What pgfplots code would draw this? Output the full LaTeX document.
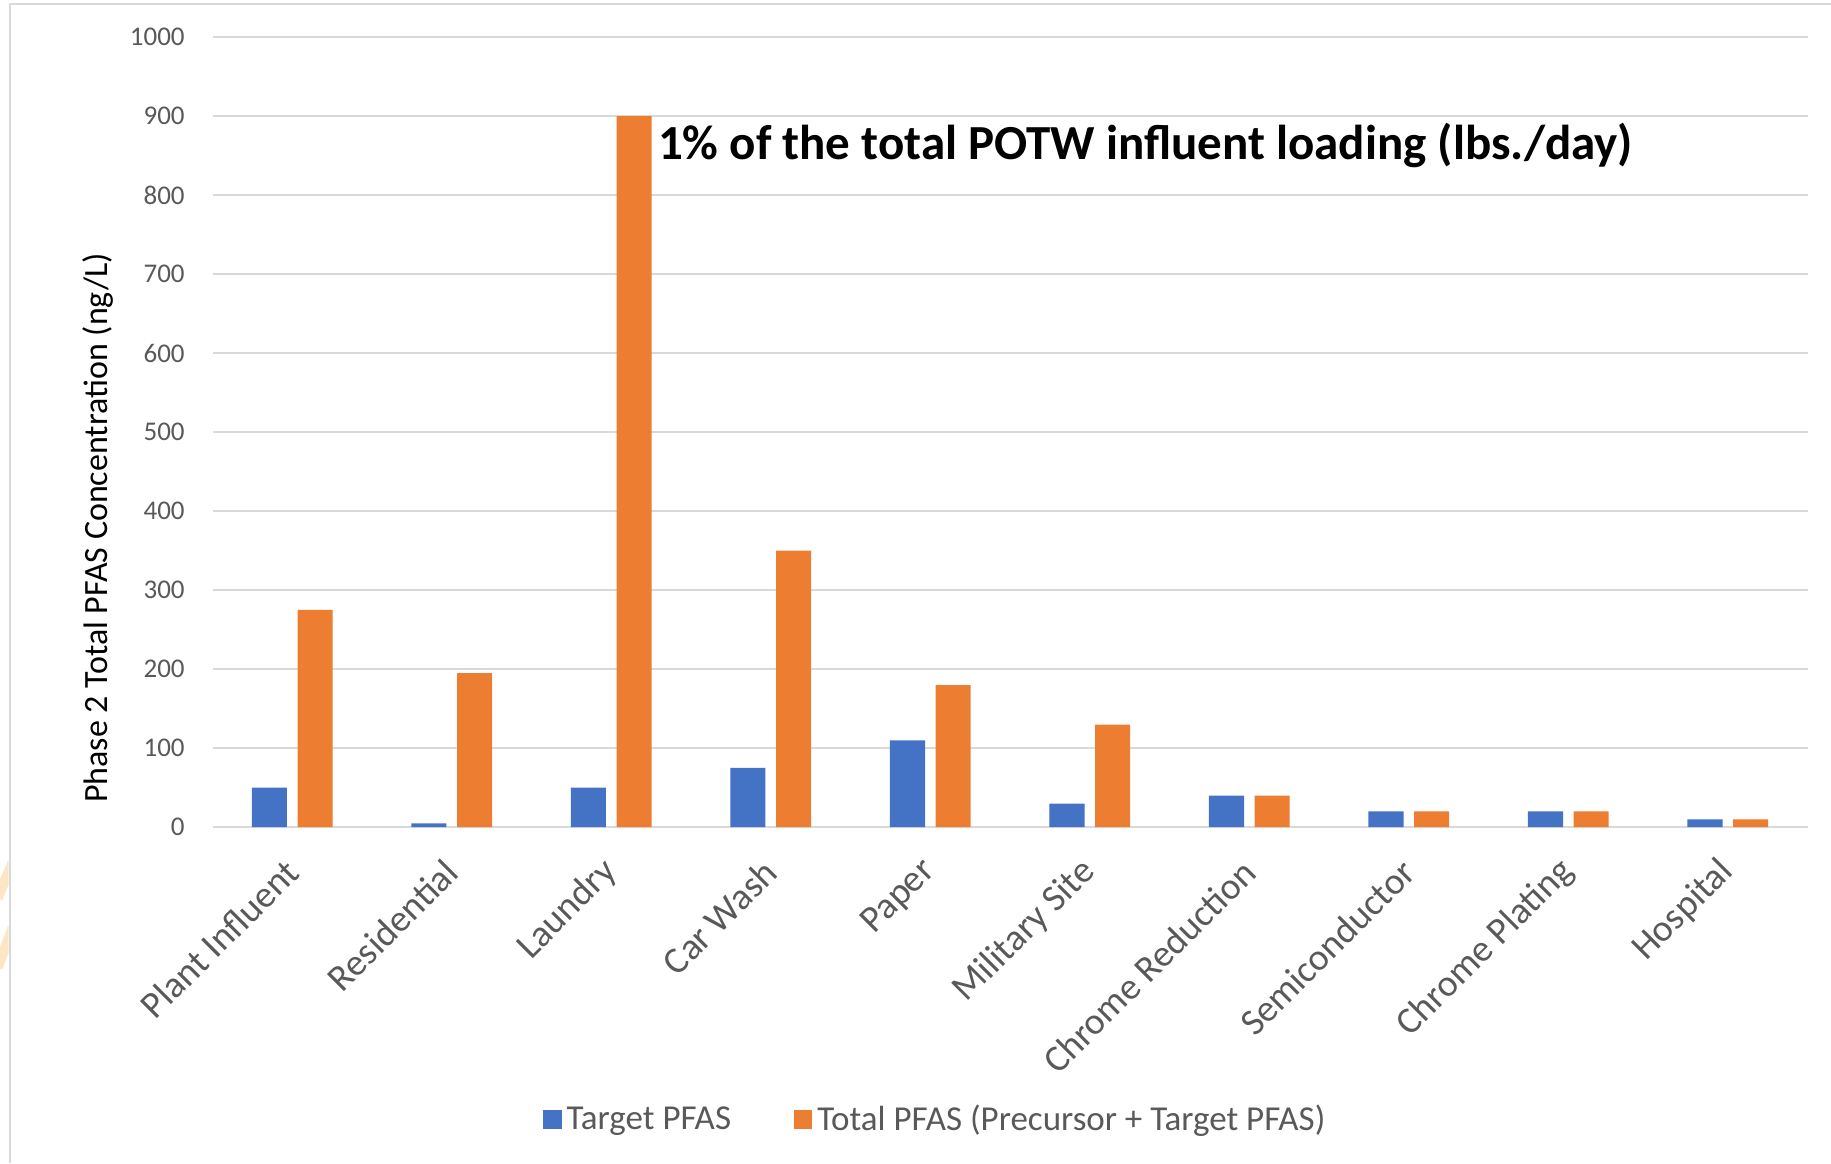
\documentclass[border=0pt]{standalone}
\usepackage{fontspec}
\setmainfont{Carlito}
\usepackage{pgfplots}
\pgfplotsset{compat=1.18}
\definecolor{barblue}{HTML}{4472C4}
\definecolor{barorange}{HTML}{ED7D31}
\definecolor{txtgray}{HTML}{595959}
\definecolor{gridgray}{HTML}{D9D9D9}
\definecolor{markpeach}{HTML}{FDE6C4}

\begin{document}
\begin{tikzpicture}
% page area and frame
\path[use as bounding box, fill=white] (0,0) rectangle (732.4pt,465.2pt);
\begin{scope}
  \clip (0,0) rectangle (3.4pt,465.2pt);
  \draw[markpeach, line width=4pt] (-1pt,106pt) -- (5pt,120pt);
  \draw[markpeach, line width=4pt] (-1pt,78pt) -- (5pt,94pt);
\end{scope}
\draw[gridgray, line width=0.8pt] (3.8pt,0) -- (3.8pt,463.6pt) -- (732.4pt,463.6pt);

\begin{axis}[
  at={(85pt,134.3pt)}, anchor=south west,
  scale only axis, width=638pt, height=316pt,
  xmin=-0.5, xmax=9.5, ymin=0, ymax=1000,
  xtick={0,...,9},
  xticklabels={Plant Influent, Residential, Laundry, Car Wash, Paper,
    Military Site, Chrome Reduction, Semiconductor, Chrome Plating, Hospital},
  ytick={0,100,...,1000},
  axis line style={draw=none},
  tick style={draw=none},
  major tick length=0pt,
  ymajorgrids,
  grid style={gridgray, line width=0.8pt},
  /pgf/number format/assume math mode=true,
  /pgf/number format/1000 sep={},
  yticklabel style={font=\fontsize{10.8}{13}\selectfont, text=txtgray, xshift=-7.6pt},
  xticklabel style={font=\fontsize{15}{18}\selectfont, text=txtgray,
    xshift=2.4pt, yshift=-13.1pt, rotate=45, anchor=east},
  legend style={at={(0.454,-0.370)}, anchor=center, draw=none, fill=none,
    legend columns=2, font=\fontsize{14}{16}\selectfont, text=txtgray,
    /tikz/every even column/.append style={column sep=23pt}},
  legend image code/.code={\fill[#1] (0pt,-3.6pt) rectangle (7.5pt,3.9pt);},
]
\addplot[ybar, bar width=0.22, bar shift=-0.143, fill=barblue, draw=none]
  coordinates {(0,50) (1,5) (2,50) (3,75) (4,110) (5,30) (6,40) (7,20) (8,20) (9,10)};
\addlegendentry{Target PFAS}
\addplot[ybar, bar width=0.22, bar shift=0.143, fill=barorange, draw=none]
  coordinates {(0,275) (1,195) (2,900) (3,350) (4,180) (5,130) (6,40) (7,20) (8,20) (9,10)};
\addlegendentry{Total PFAS (Precursor + Target PFAS)}

\node[anchor=base west, inner sep=0pt, font=\fontsize{19.6}{23}\selectfont\bfseries]
  at (axis cs:2.29,845) {1\% of the total POTW influent loading (lbs./day)};
\end{axis}

\node[rotate=90, font=\fontsize{13.6}{16}\selectfont] at (39pt,254pt)
  {Phase 2 Total PFAS Concentration (ng/L)};
\end{tikzpicture}
\end{document}
